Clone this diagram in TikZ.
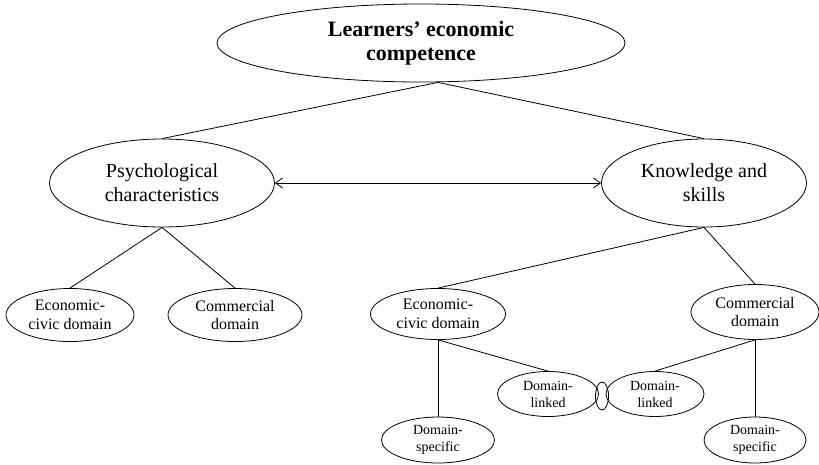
\documentclass[tikz,border=0pt]{standalone}
\usepackage{fontspec}
\setmainfont{Liberation Serif}
\usetikzlibrary{shapes.geometric,arrows.meta}

\begin{document}
\begin{tikzpicture}[x=1pt,y=-1pt, line width=0.8pt, >={Straight Barb[length=7pt,width=10pt]},
  bubble/.style={draw, ellipse, align=center, inner sep=0pt},
  headbox/.style={bubble, font=\bfseries\fontsize{22}{24}\selectfont},
  mainbox/.style={bubble, font=\fontsize{20}{24}\selectfont, minimum height=88pt},
  midbox/.style={bubble, font=\fontsize{16}{18.5}\selectfont, minimum height=53pt},
  leafbox/.style={bubble, font=\fontsize{14}{17}\selectfont}]
\useasboundingbox (0,0) rectangle (819,464);
\node[headbox, minimum width=408pt, minimum height=78pt] (lec) at (421,43) {Learners’ economic\\competence};
\node[mainbox, minimum width=225pt] (psych) at (162,183) {Psychological\\characteristics};
\node[mainbox, minimum width=205pt] (know) at (704,183) {Knowledge and\\skills};
\node[midbox, minimum width=128pt] (ecoL) at (70,315) {Economic-\\civic domain};
\node[midbox, minimum width=134pt] (comL) at (235,315) {Commercial\\domain};
\node[midbox, minimum width=135pt, minimum height=51pt] (ecoR) at (438,314) {Economic-\\civic domain};
\node[midbox, minimum width=128pt, minimum height=55pt] (comR) at (755,312) {Commercial\\domain};
\node[leafbox, minimum width=101pt, minimum height=45pt] (linkL) at (548,394) {Domain-\\linked};
\node[leafbox, minimum width=98pt, minimum height=45pt] (linkR) at (655,394) {Domain-\\linked};
\node[bubble, minimum width=13pt, minimum height=28pt] (joint) at (602,396) {};
\node[leafbox, minimum width=113pt, minimum height=46pt] (specL) at (438,440) {Domain-\\specific};
\node[leafbox, minimum width=102pt, minimum height=46pt] (specR) at (755,440) {Domain-\\specific};
\draw ([xshift=17pt]lec.south) -- (psych.north);
\draw ([xshift=17pt]lec.south) -- (know.north);
\draw[<->] (psych.east) -- (know.west);
\draw (psych.south) -- (ecoL.north);
\draw (psych.south) -- (comL.north);
\draw (know.south) -- (ecoR.north);
\draw (know.south) -- (comR.north);
\draw (ecoR.south) -- (linkL.north);
\draw (comR.south) -- (linkR.north);
\draw (ecoR.south) -- (specL.north);
\draw (comR.south) -- (specR.north);
\end{tikzpicture}
\end{document}
